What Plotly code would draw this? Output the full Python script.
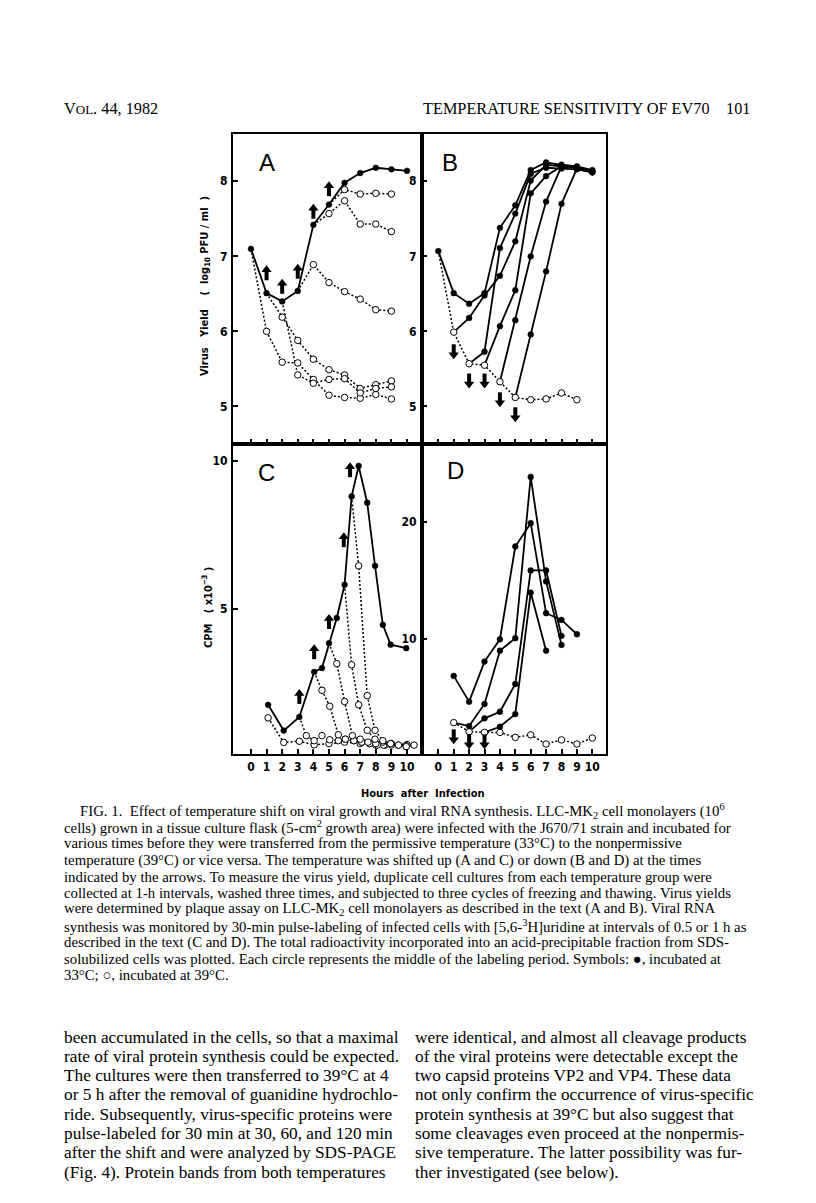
import plotly.graph_objects as go

W, H = 816, 1203

# ---------------- data ----------------
# Panel A : shift up (33 -> 39 C), virus yield, log10 PFU/ml
A_hours_33 = [0, 1, 2, 3, 4, 5, 6, 7, 8, 9, 10]
A_yield_33 = [7.10, 6.51, 6.40, 6.54, 7.42, 7.69, 7.98, 8.11, 8.18, 8.16, 8.14]
A_hours_39 = [0, 1, 2, 3, 4, 5, 6, 7, 8, 9]
A_yield_39 = [7.10, 6.00, 5.59, 5.58, 5.36, 5.15, 5.12, 5.11, 5.16, 5.10]
A_up1_hours = [1, 2, 3, 4, 5, 6, 7, 8, 9]
A_up1_yield = [6.51, 6.19, 5.88, 5.63, 5.49, 5.42, 5.24, 5.29, 5.34]
A_up2_hours = [2, 3, 4, 5, 6, 7, 8, 9]
A_up2_yield = [6.40, 5.42, 5.31, 5.36, 5.37, 5.18, 5.24, 5.26]
A_up3_hours = [3, 4, 5, 6, 7, 8, 9]
A_up3_yield = [6.54, 6.89, 6.65, 6.53, 6.43, 6.29, 6.27]
A_up4_hours = [4, 5, 6, 7, 8, 9]
A_up4_yield = [7.42, 7.57, 7.74, 7.43, 7.43, 7.33]
A_up5_hours = [5, 6, 7, 8, 9]
A_up5_yield = [7.69, 7.89, 7.83, 7.84, 7.83]
A_arrow_hours = [1, 2, 3, 4, 5]
A_arrow_level = [6.78, 6.60, 6.80, 7.60, 7.90]

# Panel B : shift down (39 -> 33 C)
B_hours_33 = [0, 1, 2, 3, 4, 5, 6, 7, 8, 9, 10]
B_yield_33 = [7.07, 6.51, 6.37, 6.51, 7.38, 7.68, 8.15, 8.25, 8.22, 8.20, 8.15]
B_hours_39 = [0, 1, 2, 3, 4, 5, 6, 7, 8, 9]
B_yield_39 = [7.07, 5.99, 5.57, 5.55, 5.33, 5.12, 5.09, 5.10, 5.18, 5.09]
B_dn1_hours = [1, 2, 3, 4, 5, 6, 7, 8, 9, 10]
B_dn1_yield = [5.99, 6.18, 6.48, 6.74, 7.20, 8.01, 8.22, 8.20, 8.18, 8.14]
B_dn2_hours = [2, 3, 4, 5, 6, 7, 8, 9, 10]
B_dn2_yield = [5.57, 5.73, 7.11, 7.57, 8.10, 8.18, 8.17, 8.16, 8.12]
B_dn3_hours = [3, 4, 5, 6, 7, 8, 9, 10]
B_dn3_yield = [5.55, 6.07, 6.55, 7.84, 8.07, 8.20, 8.19, 8.13]
B_dn4_hours = [4, 5, 6, 7, 8, 9, 10]
B_dn4_yield = [5.33, 6.15, 7.00, 7.73, 8.20, 8.18, 8.12]
B_dn5_hours = [5, 6, 7, 8, 9, 10]
B_dn5_yield = [5.12, 5.96, 6.80, 7.70, 8.17, 8.12]
B_arrow_hours = [1, 2, 3, 4, 5]
B_arrow_level = [5.73, 5.34, 5.34, 5.09, 4.89]

# Panel C : shift up, RNA synthesis, CPM x 10^-3
C_hours_33 = [1.1, 2.1, 3.1, 4.05, 4.55, 5.0, 5.5, 6.0, 6.45, 6.9, 7.45, 7.95, 8.45, 8.95, 9.95]
C_cpm_33 = [1.76, 0.89, 1.35, 2.87, 3.00, 3.84, 4.69, 5.81, 8.79, 9.82, 8.58, 6.45, 4.46, 3.79, 3.67]
C_hours_39 = [1.1, 2.1, 3.1, 4.05, 5.0, 6.0, 7.0, 8.0, 9.0, 10.0]
C_cpm_39 = [1.32, 0.49, 0.53, 0.41, 0.45, 0.50, 0.45, 0.40, 0.45, 0.42]
C_up3_hours = [3.1, 3.55, 4.05, 4.55, 5.05, 5.6, 6.05, 6.6, 7.1, 7.6, 8.1]
C_up3_cpm = [1.35, 0.72, 0.55, 0.72, 0.58, 0.55, 0.60, 0.55, 0.50, 0.45, 0.42]
C_up4_hours = [4.05, 4.55, 5.05, 5.6, 6.05, 6.6, 7.1, 7.6, 8.1, 8.6]
C_up4_cpm = [2.87, 2.25, 1.71, 0.75, 0.60, 0.55, 0.50, 0.45, 0.40, 0.40]
C_up5_hours = [5.0, 5.5, 6.0, 6.5, 7.0, 7.5, 8.0, 8.5, 9.0]
C_up5_cpm = [3.84, 3.15, 1.87, 0.72, 0.60, 0.50, 0.45, 0.40, 0.40]
C_up6_hours = [6.0, 6.45, 6.9, 7.45, 7.95, 8.45, 8.95, 9.45, 9.95]
C_up6_cpm = [5.81, 3.11, 1.76, 0.90, 0.60, 0.50, 0.45, 0.40, 0.38]
C_up65_hours = [6.45, 6.9, 7.45, 7.95, 8.45, 8.95, 9.45, 9.95, 10.45]
C_up65_cpm = [8.79, 6.45, 2.07, 0.90, 0.55, 0.45, 0.40, 0.35, 0.40]
C_arrow_hours = [3.1, 4.05, 5.0, 5.95, 6.35]
C_arrow_level = [2.04, 3.55, 4.57, 7.33, 9.69]

# Panel D : shift down, RNA synthesis, CPM x 10^-3
D_hours_33 = [1, 2, 3, 4, 5, 6, 7, 8, 9]
D_cpm_33 = [6.85, 4.66, 8.07, 9.97, 17.87, 19.86, 12.19, 11.62, 10.40]
D_hours_39 = [1, 2, 3, 4, 5, 6, 7, 8, 9, 10]
D_cpm_39 = [2.87, 2.10, 2.04, 2.04, 1.62, 1.83, 1.05, 1.40, 1.05, 1.56]
D_dn1_hours = [1, 2, 3, 4, 5, 6, 7, 8]
D_dn1_cpm = [2.87, 2.58, 4.46, 9.00, 10.06, 23.80, 14.90, 9.49]
D_dn2_hours = [2, 3, 4, 5, 6, 7, 8]
D_dn2_cpm = [2.10, 3.24, 3.80, 6.16, 15.83, 15.83, 10.26]
D_dn3_hours = [3, 4, 5, 6, 7]
D_dn3_cpm = [2.04, 2.52, 3.60, 13.95, 9.00]
D_arrow_hours = [1, 2, 3]
D_arrow_level = [1.67, 1.24, 1.24]

hour_ticks = [0, 1, 2, 3, 4, 5, 6, 7, 8, 9, 10]
yield_ticks = [5, 6, 7, 8]
C_ticks = [5, 10]
D_ticks = [10, 20]

# ---------------- figure ----------------
def px(x):
    return x / W


def py(y):
    return 1 - y / H


COND = "Liberation Sans Narrow, DejaVu Sans Condensed, Arial Narrow, Roboto, sans-serif"
SERIF = "Liberation Serif, Times New Roman, serif"

# panel geometry (pixels) and axis ranges
X_LEFT, X_MID, X_RIGHT = 233, 422, 606
Y_TOP, Y_MID, Y_BOT = 134, 444, 754
RANGE_X_L = [-1.15, 10.96]
RANGE_X_R = [-1.06, 10.89]
RANGE_YIELD = [4.5, 8.63]
RANGE_C = [0.1, 10.56]
RANGE_D = [0.2, 26.6]

fig = go.Figure()

line_traces, open_pts, fill_pts = [], {}, {}


def series(ax, xs, ys, dash, first, rest):
    line_traces.append(go.Scatter(
        x=xs, y=ys, mode="lines", xaxis="x" + ax, yaxis="y" + ax,
        line=dict(color="black", width=1.8 if dash == "solid" else 1.5,
                  dash="solid" if dash == "solid" else "2px,2px"),
        hoverinfo="skip", showlegend=False))
    for i, (xv, yv) in enumerate(zip(xs, ys)):
        kind = first if i == 0 else rest
        if kind is None:
            continue
        d = open_pts if kind == "o" else fill_pts
        d.setdefault(ax, ([], []))
        d[ax][0].append(xv)
        d[ax][1].append(yv)


# A
series("", A_hours_33, A_yield_33, "solid", "f", "f")
series("", A_hours_39, A_yield_39, "dot", None, "o")
for hx, hy in [(A_up1_hours, A_up1_yield), (A_up2_hours, A_up2_yield),
               (A_up3_hours, A_up3_yield), (A_up4_hours, A_up4_yield),
               (A_up5_hours, A_up5_yield)]:
    series("", hx, hy, "dot", None, "o")
# B
series("2", B_hours_33, B_yield_33, "solid", "f", "f")
series("2", B_hours_39, B_yield_39, "dot", None, "o")
for hx, hy in [(B_dn1_hours, B_dn1_yield), (B_dn2_hours, B_dn2_yield),
               (B_dn3_hours, B_dn3_yield), (B_dn4_hours, B_dn4_yield),
               (B_dn5_hours, B_dn5_yield)]:
    series("2", hx, hy, "solid", None, "f")
# C
series("3", C_hours_33, C_cpm_33, "solid", "f", "f")
series("3", C_hours_39, C_cpm_39, "dot", "o", "o")
for hx, hy in [(C_up3_hours, C_up3_cpm), (C_up4_hours, C_up4_cpm),
               (C_up5_hours, C_up5_cpm), (C_up6_hours, C_up6_cpm),
               (C_up65_hours, C_up65_cpm)]:
    series("3", hx, hy, "dot", None, "o")
# D
series("4", D_hours_33, D_cpm_33, "solid", "f", "f")
series("4", D_hours_39, D_cpm_39, "dot", "o", "o")
for hx, hy in [(D_dn1_hours, D_dn1_cpm), (D_dn2_hours, D_dn2_cpm),
               (D_dn3_hours, D_dn3_cpm)]:
    series("4", hx, hy, "solid", None, "f")

for t in line_traces:
    fig.add_trace(t)
for ax, (xs, ys) in open_pts.items():
    fig.add_trace(go.Scatter(x=xs, y=ys, mode="markers", xaxis="x" + ax, yaxis="y" + ax,
                             marker=dict(symbol="circle", size=6.5, color="white",
                                         line=dict(color="black", width=1)),
                             hoverinfo="skip", showlegend=False))
for ax, (xs, ys) in fill_pts.items():
    fig.add_trace(go.Scatter(x=xs, y=ys, mode="markers", xaxis="x" + ax, yaxis="y" + ax,
                             marker=dict(symbol="circle", size=5.8, color="black",
                                         line=dict(color="black", width=0.5)),
                             hoverinfo="skip", showlegend=False))

# temperature-shift arrows: triangle head + thick stem (offsets in pixels -> data units)
for ax, hrs, lv, up, rng in [("", A_arrow_hours, A_arrow_level, True, RANGE_YIELD),
                             ("2", B_arrow_hours, B_arrow_level, False, RANGE_YIELD),
                             ("3", C_arrow_hours, C_arrow_level, True, RANGE_C),
                             ("4", D_arrow_hours, D_arrow_level, False, RANGE_D)]:
    per_px = (rng[1] - rng[0]) / (Y_MID - Y_TOP)
    sgn = 1 if up else -1
    head_y = [v + sgn * 3.0 * per_px for v in lv]
    stem_y = [v - sgn * 2.5 * per_px for v in lv]
    fig.add_trace(go.Scatter(x=hrs, y=stem_y, mode="markers", xaxis="x" + ax, yaxis="y" + ax,
                             marker=dict(symbol="line-ns", size=7,
                                         line=dict(color="black", width=4)),
                             hoverinfo="skip", showlegend=False))
    fig.add_trace(go.Scatter(x=hrs, y=head_y, mode="markers", xaxis="x" + ax, yaxis="y" + ax,
                             marker=dict(symbol="triangle-up" if up else "triangle-down",
                                         size=9, color="black", line=dict(width=0)),
                             hoverinfo="skip", showlegend=False))

# axes
tickfont = dict(family=COND, size=12, color="black", weight="bold")


def axis(domain, rng, tickvals, labels):
    return dict(domain=domain, range=rng, showline=True, linecolor="black", linewidth=2,
                mirror=True, ticks="inside", ticklen=5, tickwidth=1.5, tickcolor="black",
                showgrid=False, zeroline=False, tickvals=tickvals,
                showticklabels=labels, tickfont=tickfont, ticklabelstandoff=1)


xl = [px(X_LEFT), px(X_MID)]
xr = [px(X_MID), px(X_RIGHT)]
yt = [py(Y_MID), py(Y_TOP)]
yb = [py(Y_BOT), py(Y_MID)]

fig.update_layout(
    xaxis=dict(axis(xl, RANGE_X_L, hour_ticks, False), anchor="y"),
    yaxis=dict(axis(yt, RANGE_YIELD, yield_ticks, True), anchor="x"),
    xaxis2=dict(axis(xr, RANGE_X_R, hour_ticks, False), anchor="y2"),
    yaxis2=dict(axis(yt, RANGE_YIELD, yield_ticks, True), anchor="x2"),
    xaxis3=dict(axis(xl, RANGE_X_L, hour_ticks, True), anchor="y3"),
    yaxis3=dict(axis(yb, RANGE_C, C_ticks, True), anchor="x3"),
    xaxis4=dict(axis(xr, RANGE_X_R, hour_ticks, True), anchor="y4"),
    yaxis4=dict(axis(yb, RANGE_D, D_ticks, True), anchor="x4"),
)

ann = []


def text(x, y, s, font, xanchor="center", yanchor="middle", angle=0):
    ann.append(dict(x=px(x), y=py(y), xref="paper", yref="paper", text=s, showarrow=False,
                    xanchor=xanchor, yanchor=yanchor, textangle=angle, font=font))


# panel letters
letter_font = dict(family="Liberation Sans, Arial, sans-serif", size=24, color="black")
for letter, x, y in [("A", 267, 162), ("B", 450, 162), ("C", 266, 473), ("D", 455, 471)]:
    text(x, y, letter, letter_font)

# axis titles
title_font = dict(family=COND, size=11, color="black", weight="bold")
text(205, 286, "Virus   Yield    (  log<sub>10</sub> PFU / ml  )", title_font, angle=-90)
text(207, 608, "CPM   ( x10<sup>−3</sup> )", title_font, angle=-90)
text(423, 793, "Hours  after  Infection", title_font)

# running head
head_font = dict(family=SERIF, size=16.3, color="black")
text(62, 109, "V<span style='font-size:13px'>OL</span>. 44, 1982", head_font, xanchor="left")
text(712, 109, "TEMPERATURE SENSITIVITY OF EV70", head_font, xanchor="right")
text(752, 109, "101", head_font, xanchor="right")

caption = [
    "FIG. 1.  Effect of temperature shift on viral growth and viral RNA synthesis. LLC-MK<sub>2</sub> cell monolayers (10<sup>6</sup>",
    "cells) grown in a tissue culture flask (5-cm<sup>2</sup> growth area) were infected with the J670/71 strain and incubated for",
    "various times before they were transferred from the permissive temperature (33°C) to the nonpermissive",
    "temperature (39°C) or vice versa. The temperature was shifted up (A and C) or down (B and D) at the times",
    "indicated by the arrows. To measure the virus yield, duplicate cell cultures from each temperature group were",
    "collected at 1-h intervals, washed three times, and subjected to three cycles of freezing and thawing. Virus yields",
    "were determined by plaque assay on LLC-MK<sub>2</sub> cell monolayers as described in the text (A and B). Viral RNA",
    "synthesis was monitored by 30-min pulse-labeling of infected cells with [5,6-<sup>3</sup>H]uridine at intervals of 0.5 or 1 h as",
    "described in the text (C and D). The total radioactivity incorporated into an acid-precipitable fraction from SDS-",
    "solubilized cells was plotted. Each circle represents the middle of the labeling period. Symbols: ●, incubated at",
    "33°C; ○, incubated at 39°C.",
]
cap_font = dict(family=SERIF, size=14.8, color="black")
for i, line in enumerate(caption):
    text(78 if i == 0 else 62, 811 + i * 16.4, line, cap_font, xanchor="left")

body_left = [
    "been accumulated in the cells, so that a maximal",
    "rate of viral protein synthesis could be expected.",
    "The cultures were then transferred to 39°C at 4",
    "or 5 h after the removal of guanidine hydrochlo-",
    "ride. Subsequently, virus-specific proteins were",
    "pulse-labeled for 30 min at 30, 60, and 120 min",
    "after the shift and were analyzed by SDS-PAGE",
    "(Fig. 4). Protein bands from both temperatures",
]
body_right = [
    "were identical, and almost all cleavage products",
    "of the viral proteins were detectable except the",
    "two capsid proteins VP2 and VP4. These data",
    "not only confirm the occurrence of virus-specific",
    "protein synthesis at 39°C but also suggest that",
    "some cleavages even proceed at the nonpermis-",
    "sive temperature. The latter possibility was fur-",
    "ther investigated (see below).",
]
body_font = dict(family=SERIF, size=17.3, color="black")
for col, x0 in [(body_left, 62), (body_right, 413)]:
    for i, line in enumerate(col):
        text(x0, 1037 + i * 19.3, line, body_font, xanchor="left")

fig.update_layout(annotations=ann, width=W, height=H, margin=dict(l=0, r=0, t=0, b=0),
                  paper_bgcolor="white", plot_bgcolor="white", showlegend=False)

fig.write_html("out.html", config={"displayModeBar": False},
               post_script="document.body.style.margin='0';document.body.style.overflow='hidden';")
